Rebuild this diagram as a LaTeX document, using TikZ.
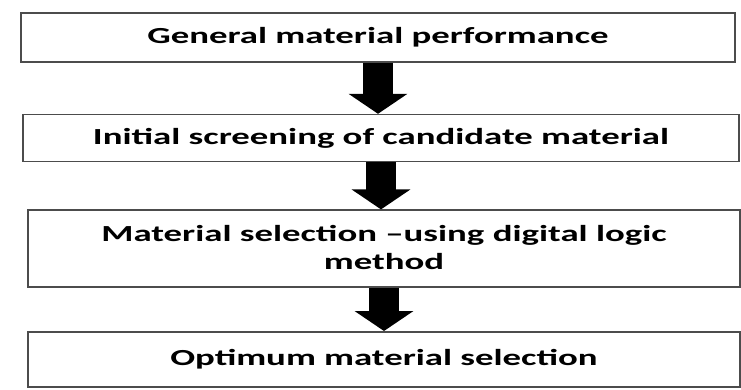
\documentclass[tikz,border=0pt]{standalone}
\usepackage{fontspec}
\usetikzlibrary{arrows.meta,positioning}
\newfontfamily\boxfont[FakeStretch=1.6]{Carlito}
\tikzset{
  stage/.style={draw=black!70, line width=1.6pt, minimum width=714pt,
                align=center, inner sep=0pt, font=\boxfont\bfseries\fontsize{23}{28}\selectfont},
  bigflow/.style={-{Triangle[width=58pt,length=20pt]}, line width=30pt}
}
\begin{document}
\begin{tikzpicture}[x=1pt,y=-1pt]
  \useasboundingbox (0,0) rectangle (741,389);
  \node[stage, minimum height=49pt] (perf) at (378,37.5) {General material performance};
  \node[stage, minimum height=47pt, minimum width=716pt, below=51pt of perf, xshift=3pt] (screen)
        {Initial screening of candidate material};
  \node[stage, minimum height=77pt, minimum width=712pt, text depth=3pt,
        below=47pt of screen, xshift=3pt] (select)
        {Material selection –using digital logic\\ method};
  \node[stage, minimum height=55pt, minimum width=712pt, below=43pt of select] (optimum)
        {Optimum material selection};
  % arrows between the stages
  \draw[bigflow] (perf.south) -- (perf.south |- screen.north);
  \draw[bigflow] (screen.south) -- (screen.south |- select.north);
  \draw[bigflow] (select.south) -- (select.south |- optimum.north);
\end{tikzpicture}
\end{document}
